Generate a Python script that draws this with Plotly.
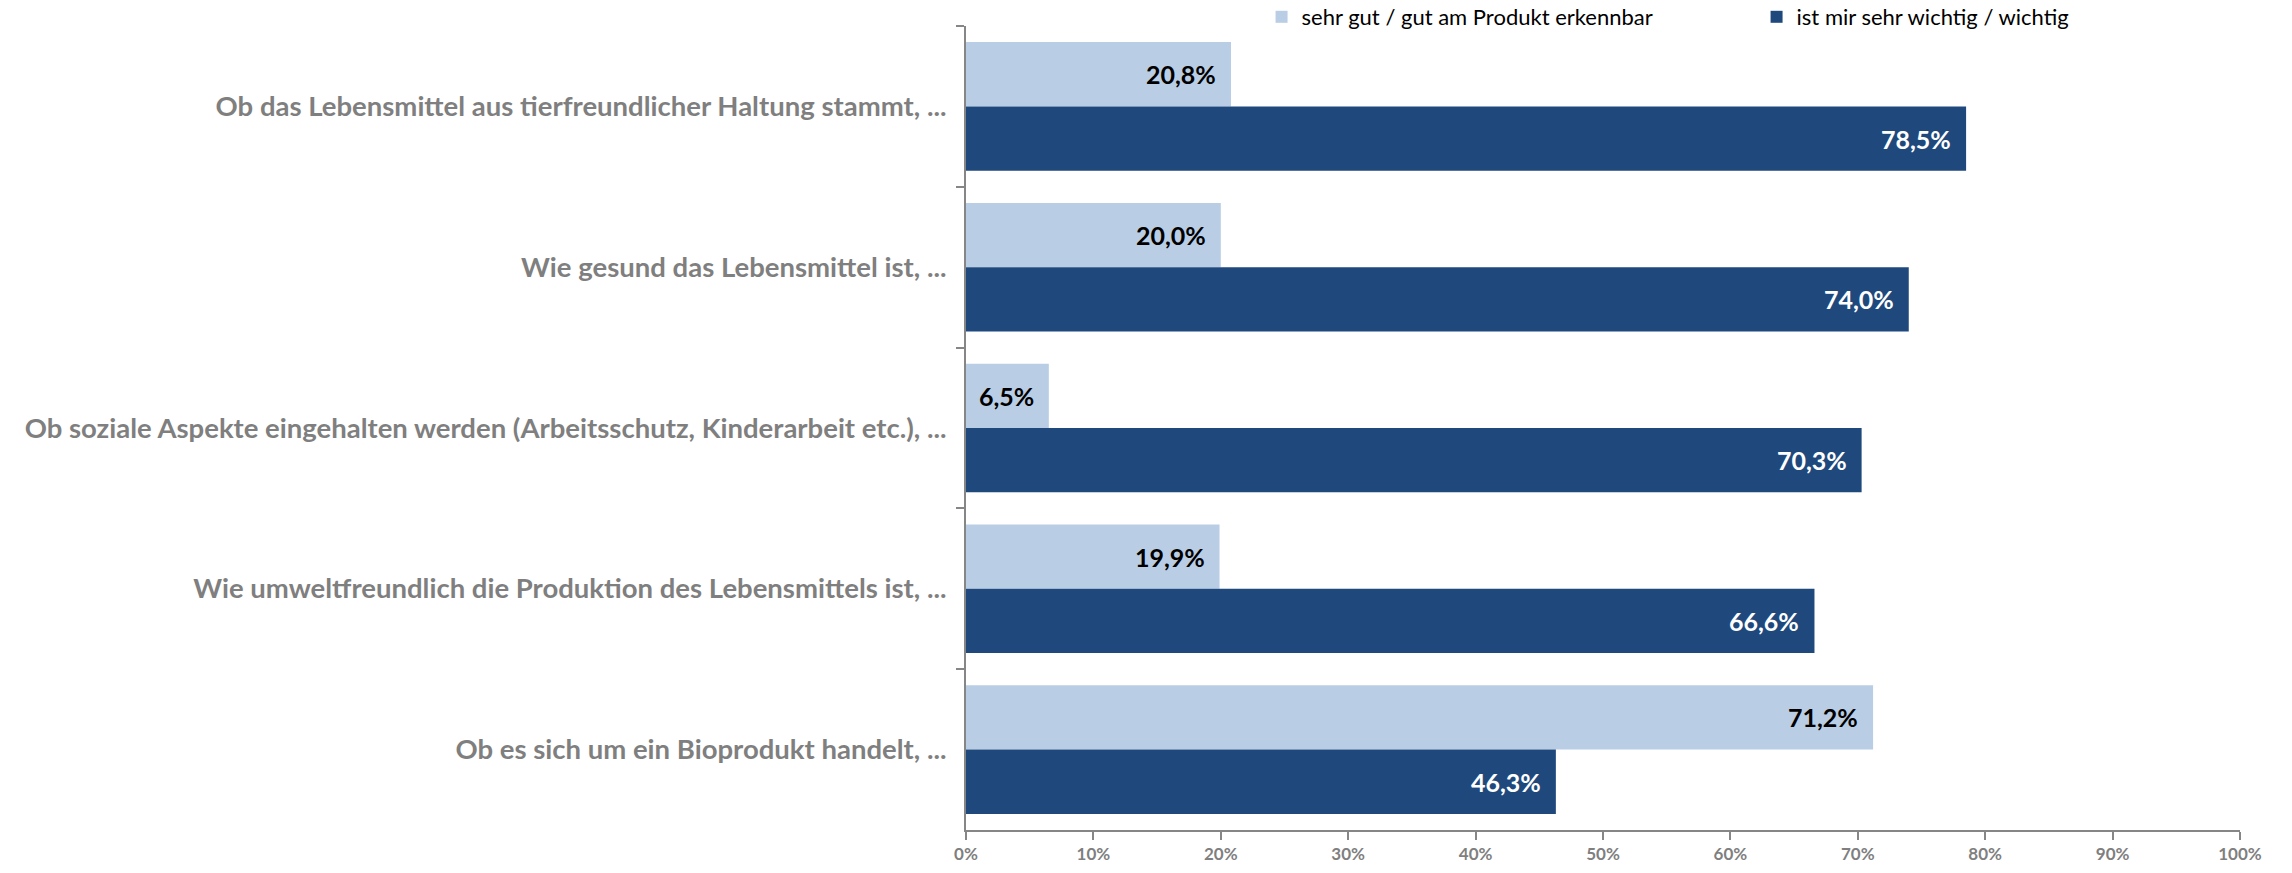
import plotly.graph_objects as go

categories = [
    "Ob das Lebensmittel aus tierfreundlicher Haltung stammt, ...",
    "Wie gesund das Lebensmittel ist, ...",
    "Ob soziale Aspekte eingehalten werden (Arbeitsschutz, Kinderarbeit etc.), ...",
    "Wie umweltfreundlich die Produktion des Lebensmittels ist, ...",
    "Ob es sich um ein Bioprodukt handelt, ...",
]
series_names = ["sehr gut / gut am Produkt erkennbar", "ist mir sehr wichtig / wichtig"]
erkennbar = [20.8, 20.0, 6.5, 19.9, 71.2]
wichtig = [78.5, 74.0, 70.3, 66.6, 46.3]
tick_vals = [0, 10, 20, 30, 40, 50, 60, 70, 80, 90, 100]
tick_text = ["0%", "10%", "20%", "30%", "40%", "50%", "60%", "70%", "80%", "90%", "100%"]

LIGHT = "#B9CDE5"
DARK = "#1F497D"
GREY = "#7F7F7F"
FONT = "Lato"


def fmt(v):
    return f"{v:.1f}".replace(".", ",") + "%"


fig = go.Figure()
fig.add_trace(go.Bar(y=categories, x=erkennbar, name=series_names[0], orientation="h",
                     marker=dict(color=LIGHT, line=dict(width=0))))
fig.add_trace(go.Bar(y=categories, x=wichtig, name=series_names[1], orientation="h",
                     marker=dict(color=DARK, line=dict(width=0))))

BARGAP = 0.2
plot_h = 873 - 26 - 43
band = plot_h / len(categories)
half = band * (1 - BARGAP) / 4

annotations = []
for cat, v in zip(categories, erkennbar):
    annotations.append(dict(x=v, y=cat, xref="x", yref="y", text=fmt(v), showarrow=False,
                            xanchor="right", xshift=-13, yshift=half,
                            font=dict(family=FONT, size=25, color="#000000", weight="bold")))
for cat, v in zip(categories, wichtig):
    annotations.append(dict(x=v, y=cat, xref="x", yref="y", text=fmt(v), showarrow=False,
                            xanchor="right", xshift=-13, yshift=-half,
                            font=dict(family=FONT, size=25, color="#FFFFFF", weight="bold")))

fig.update_layout(
    width=2292, height=873,
    margin=dict(l=966, r=52, t=26, b=43, autoexpand=False),
    paper_bgcolor="white", plot_bgcolor="white",
    barmode="group", bargap=BARGAP, bargroupgap=0,
    font=dict(family=FONT, color=GREY),
    showlegend=True,
    legend=dict(orientation="h", x=0.232, xanchor="left", y=1 - 17 / 873, yref="container",
                yanchor="middle", entrywidth=450, entrywidthmode="pixels",
                font=dict(family=FONT, size=22, color="#000000"), traceorder="normal"),
    annotations=annotations,
    xaxis=dict(range=[0, 100], tickvals=tick_vals, ticktext=tick_text, showgrid=False,
               zeroline=False, showline=True, linecolor="#868686", linewidth=2,
               ticks="outside", ticklen=8, tickwidth=2, tickcolor="#868686",
               tickfont=dict(family=FONT, size=17, color=GREY, weight="bold")),
    yaxis=dict(autorange="reversed", categoryorder="array", categoryarray=categories,
               showgrid=False, zeroline=False, showline=True, linecolor="#868686", linewidth=2,
               ticks="outside", ticklen=8, tickwidth=2, tickcolor="#868686", tickson="boundaries",
               ticklabelstandoff=12,
               tickfont=dict(family=FONT, size=27.5, color=GREY, weight="bold")),
)

fig.write_html("out.html")
